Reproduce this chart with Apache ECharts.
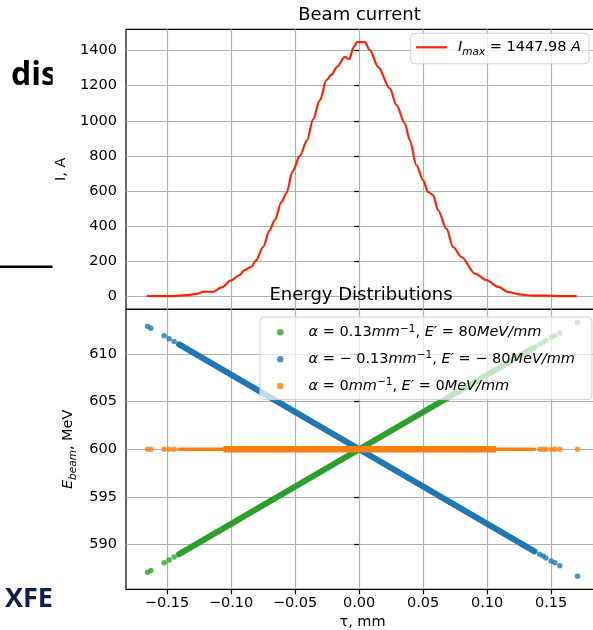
<!DOCTYPE html>
<html><head><meta charset="utf-8">
<script src="https://cdn.jsdelivr.net/npm/echarts@6/dist/echarts.min.js"></script>
<style>html,body{margin:0;padding:0;background:#fff}#c{width:593px;height:630px}</style>
</head><body><div id="c"></div>
<script>
// ---- data ----
const tauCurrent = [-0.166,-0.155,-0.145,-0.135,-0.127,-0.121,-0.114,-0.1075,-0.100,-0.094,-0.089,-0.084,-0.0807,-0.075,-0.070,-0.066,-0.0606,-0.0567,-0.052,-0.0463,-0.0406,-0.0359,-0.0307,-0.0255,-0.0216,-0.0172,-0.0112,-0.0078,-0.0041,-0.0016,0.0045,0.0084,0.0148,0.024,0.0292,0.0357,0.0396,0.0448,0.050,0.0539,0.0578,0.0617,0.0683,0.0734,0.080,0.0904,0.0995,0.1086,0.117,0.125,0.135,0.146,0.158,0.170];
const current = [4,2,3,8,15,28,27,52,92,120,152,170,205,282,375,434,538,590,712,800,890,1010,1117,1231,1262,1307,1364,1350,1420,1447,1447,1402,1307,1184,1089,985,890,747,662,595,577,491,385,282,225,131,93,55,25,13,5,5,3,3];
const tauTicks = [-0.15,-0.10,-0.05,0.00,0.05,0.10,0.15];
const currentTicks = [0,200,400,600,800,1000,1200,1400];
const energyTicks = [590,595,600,605,610];

// isolated particles (same tau for all three settings)
const tauOutliers = [-0.1653,-0.1627,-0.1523,-0.1484,-0.1445,0.141,0.1438,0.1459,0.150,0.1529,0.1568,0.1706];
const energyPosOutliers = [587.1,587.3,588.1,588.4,588.7,611.0,611.2,611.4,611.7,611.9,612.2,613.3];
const energyNegOutliers = [612.9,612.7,611.9,611.6,611.3,589.0,588.8,588.6,588.3,588.1,587.8,586.7];
const energyZeroOutliers = [600,600,600,600,600,600,600,600,600,600,600,600];

// dense bands: [tau start, tau end] and matching energies
const tauBand = [-0.1406, 0.137];
const energyPosBand = [589.0, 610.7];
const energyNegBand = [611.0, 589.3];
const tauZeroThick = [-0.106, 0.107];
const energyZeroBand = [600, 600];

const FONT = 'DejaVu Sans';
const green = '#2ca02c', blue = '#1f77b4', orange = '#ff7f0e';

function pairs(xs, ys){ return xs.map((x,i)=>[x, ys[i]]); }
function fmtTau(v){ return (v < 0 ? '\u2212' : '') + Math.abs(v).toFixed(2); }

const chart = echarts.init(document.getElementById('c'), null, {renderer:'canvas'});

const gridLine = {show:true, lineStyle:{color:'#b0b0b0', width:1.2}};
const tickStyle = {color:'#000', width:1.2};
const labelBase = {fontFamily:FONT, fontSize:14.5, color:'#000'};
const richBase = {
  n:{fontFamily:FONT, fontSize:14.5, color:'#000', lineHeight:18},
  i:{fontFamily:FONT, fontSize:14.5, color:'#000', fontStyle:'italic', lineHeight:18},
  ip:{fontFamily:FONT, fontSize:14.5, color:'#000', fontStyle:'italic', lineHeight:18, padding:[0,0,0,20]},
  ip1:{fontFamily:FONT, fontSize:14.5, color:'#000', fontStyle:'italic', lineHeight:20, padding:[0,0,0,6]},
  sub:{fontFamily:FONT, fontSize:10.5, color:'#000', fontStyle:'italic', lineHeight:20, verticalAlign:'bottom'},
  sup:{fontFamily:FONT, fontSize:10.5, color:'#000', lineHeight:18, verticalAlign:'top'}
};

const legendNames = {
  pos:'{ip|\u03b1}{n| = 0.13}{i|mm}{sup|\u22121}{n|, }{i|E\u2032}{n| = 80}{i|MeV/mm}',
  neg:'{ip|\u03b1}{n| = \u2212 0.13}{i|mm}{sup|\u22121}{n|, }{i|E\u2032}{n| = \u2212 80}{i|MeV/mm}',
  zero:'{ip|\u03b1}{n| = 0}{i|mm}{sup|\u22121}{n|, }{i|E\u2032}{n| = 0}{i|MeV/mm}'
};

const option = {
  animation:false,
  backgroundColor:'#fff',
  textStyle:{fontFamily:FONT},
  title:[
    {text:'Beam current', left:359.5, top:6, textAlign:'center', padding:0,
     textStyle:{fontFamily:FONT, fontSize:18, fontWeight:'normal', color:'#000'}},
    {text:'Energy Distributions', left:361, top:286.5, textAlign:'center', padding:0,
     textStyle:{fontFamily:FONT, fontSize:18, fontWeight:'normal', color:'#000'}}
  ],
  grid:[
    {left:126, top:29.3, width:473, height:280, outerBoundsMode:'none', containLabel:false,
     show:true, borderColor:'#000', borderWidth:1.2, backgroundColor:'transparent'},
    {left:126, top:309.3, width:473, height:280, outerBoundsMode:'none', containLabel:false,
     show:true, borderColor:'#000', borderWidth:1.2, backgroundColor:'transparent'}
  ],
  xAxis:[
    {gridIndex:0, type:'value', min:-0.1821, max:0.1874,
     axisLine:{show:false}, axisTick:{show:false, customValues:tauTicks},
     axisLabel:{show:false, customValues:tauTicks}, splitLine:gridLine},
    {gridIndex:1, type:'value', min:-0.1821, max:0.1874,
     axisLine:{show:false}, axisTick:{show:true, length:5, lineStyle:tickStyle, customValues:tauTicks},
     axisLabel:Object.assign({customValues:tauTicks, formatter:fmtTau, margin:6}, labelBase),
     splitLine:gridLine,
     name:'\u03c4, mm', nameLocation:'middle', nameGap:25,
     nameTextStyle:{fontFamily:FONT, fontSize:14.5, color:'#000'}}
  ],
  yAxis:[
    {gridIndex:0, type:'value', min:-72.4, max:1520.4,
     axisLine:{show:false}, axisTick:{show:true, length:5, lineStyle:tickStyle, customValues:currentTicks},
     axisLabel:Object.assign({customValues:currentTicks, formatter:v=>String(v), margin:9}, labelBase),
     splitLine:gridLine,
     name:'I, A', nameLocation:'middle', nameGap:49,
     nameTextStyle:{fontFamily:FONT, fontSize:14.5, color:'#000'}},
    {gridIndex:1, type:'value', min:585.32, max:614.68,
     axisLine:{show:false}, axisTick:{show:true, length:5, lineStyle:tickStyle, customValues:energyTicks},
     axisLabel:Object.assign({customValues:energyTicks, formatter:v=>String(v), margin:9}, labelBase),
     splitLine:gridLine,
     name:'{i|E}{sub|beam}{n|, MeV}', nameLocation:'middle', nameGap:43,
     nameTextStyle:{rich:{
       n:{fontFamily:FONT, fontSize:14.5, color:'#000', lineHeight:20},
       i:{fontFamily:FONT, fontSize:14.5, color:'#000', fontStyle:'italic', lineHeight:20},
       sub:{fontFamily:FONT, fontSize:10.5, color:'#000', fontStyle:'italic', lineHeight:20, verticalAlign:'bottom'}
     }}}
  ],
  legend:[
    {data:[{name:'current', icon:'rect'}], orient:'vertical', left:410.7, top:33.3, padding:[6.5,8,6.5,5.3],
     itemWidth:31, itemHeight:2.2, backgroundColor:'rgba(255,255,255,0.8)',
     borderColor:'#d0d0d0', borderWidth:1, borderRadius:4,
     itemStyle:{color:'#ff2200', borderWidth:0},
     formatter:()=>'{ip1|I}{sub|max}{n| = 1447.98 }{i|A}',
     textStyle:{rich:richBase}},
    {data:['pos','neg','zero'], orient:'vertical', left:260, top:317, padding:[6.3,17,6,17],
     itemGap:10.4, itemWidth:6.5, itemHeight:6.5, icon:'circle',
     backgroundColor:'rgba(255,255,255,0.72)',
     borderColor:'#d0d0d0', borderWidth:1, borderRadius:4,
     formatter:n=>legendNames[n],
     textStyle:{rich:richBase}}
  ],
  series:[
    {name:'current', type:'line', xAxisIndex:0, yAxisIndex:0, data:pairs(tauCurrent,current),
     symbol:'none', smooth:0.3, smoothMonotone:'x', color:'#ff2200', lineStyle:{color:'#ff2200', width:2.2}},
    // alpha = +0.13
    {name:'posBand', type:'line', xAxisIndex:1, yAxisIndex:1, data:pairs(tauBand,energyPosBand),
     symbol:'none', color:green, lineStyle:{color:green, width:6, cap:'round'}, z:2},
    {name:'pos', type:'scatter', xAxisIndex:1, yAxisIndex:1, data:pairs(tauOutliers,energyPosOutliers),
     symbolSize:5.5, color:green, itemStyle:{color:green}, z:2},
    // alpha = -0.13
    {name:'negBand', type:'line', xAxisIndex:1, yAxisIndex:1, data:pairs(tauBand,energyNegBand),
     symbol:'none', color:blue, lineStyle:{color:blue, width:6, cap:'round'}, z:3},
    {name:'neg', type:'scatter', xAxisIndex:1, yAxisIndex:1, data:pairs(tauOutliers,energyNegOutliers),
     symbolSize:5.5, color:blue, itemStyle:{color:blue}, z:3},
    // alpha = 0
    {name:'zeroBand', type:'line', xAxisIndex:1, yAxisIndex:1, data:pairs(tauBand,energyZeroBand),
     symbol:'none', color:orange, lineStyle:{color:orange, width:3.5, cap:'round'}, z:4},
    {name:'zeroThick', type:'line', xAxisIndex:1, yAxisIndex:1, data:pairs(tauZeroThick,energyZeroBand),
     symbol:'none', color:orange, lineStyle:{color:orange, width:6.5, cap:'butt'}, z:4},
    {name:'zero', type:'scatter', xAxisIndex:1, yAxisIndex:1, data:pairs(tauOutliers,energyZeroOutliers),
     symbolSize:5.5, color:orange, itemStyle:{color:orange}, z:4}
  ],
  graphic:[
    {type:'text', left:11, top:60, z:1, style:{text:'dis', fontFamily:'Open Sans', fontWeight:'bold', fontSize:32, fill:'#000'}},
    {type:'text', left:5, top:586, z:1, style:{text:'XFEL', fontFamily:'Open Sans', fontWeight:'bold', fontSize:27, fill:'#141c4c'}},
    {type:'line', z:1, shape:{x1:0, y1:266.7, x2:52.7, y2:266.7}, style:{stroke:'#000', lineWidth:2.5}},
    {type:'rect', z:5, shape:{x:52.7, y:55, width:25, height:45}, style:{fill:'#fff'}},
    {type:'rect', z:5, shape:{x:52.7, y:255, width:25, height:25}, style:{fill:'#fff'}},
    {type:'rect', z:5, shape:{x:52.7, y:575, width:60, height:50}, style:{fill:'#fff'}}
  ]
};
chart.setOption(option);
</script></body></html>
